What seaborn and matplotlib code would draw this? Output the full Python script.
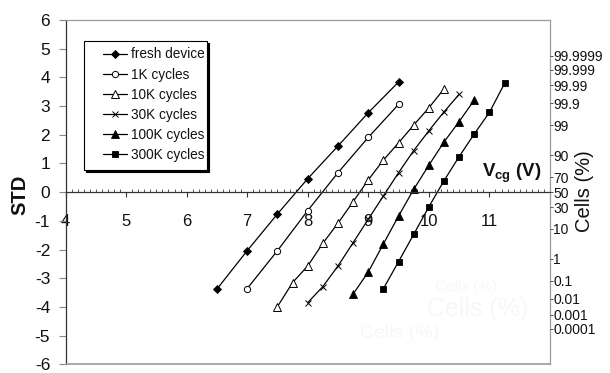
import matplotlib
matplotlib.use("Agg")
import matplotlib.pyplot as plt
import seaborn as sns
import numpy as np
import pandas as pd
from matplotlib.patches import Rectangle
from matplotlib.ticker import MultipleLocator, FixedLocator
from statistics import NormalDist

# ---------------- data ----------------
series_names = ["fresh device", "1K cycles", "10K cycles", "30K cycles",
                "100K cycles", "300K cycles"]

fresh_v = [6.5, 7.0, 7.5, 8.0, 8.5, 9.0, 9.5]
fresh_std = [-3.38, -2.04, -0.76, 0.47, 1.61, 2.77, 3.84]

k1_v = [7.0, 7.5, 8.0, 8.5, 9.0, 9.5]
k1_std = [-3.36, -2.04, -0.64, 0.68, 1.91, 3.06]

k10_v = [7.5, 7.75, 8.0, 8.25, 8.5, 8.75, 9.0, 9.25, 9.5, 9.75, 10.0, 10.25]
k10_std = [-3.99, -3.15, -2.57, -1.78, -1.08, -0.33, 0.43, 1.12, 1.72, 2.34, 2.94, 3.60]

k30_v = [8.0, 8.25, 8.5, 8.75, 9.0, 9.25, 9.5, 9.75, 10.0, 10.25, 10.5]
k30_std = [-3.85, -3.29, -2.57, -1.76, -0.94, -0.13, 0.68, 1.45, 2.14, 2.80, 3.41]

k100_v = [8.75, 9.0, 9.25, 9.5, 9.75, 10.0, 10.25, 10.5, 10.75]
k100_std = [-3.55, -2.78, -1.80, -0.83, 0.10, 0.94, 1.75, 2.46, 3.21]

k300_v = [9.25, 9.5, 9.75, 10.0, 10.25, 10.5, 10.75, 11.0, 11.25]
k300_std = [-3.36, -2.42, -1.47, -0.51, 0.40, 1.24, 2.03, 2.78, 3.79]

x_ticks = [4, 5, 6, 7, 8, 9, 10, 11]
y_ticks = [-6, -5, -4, -3, -2, -1, 0, 1, 2, 3, 4, 5, 6]
cells_labels = ["99.9999", "99.999", "99.99", "99.9", "99", "90", "70", "50",
                "30", "10", "1", "0.1", "0.01", "0.001", "0.0001"]

# ---------------- style ----------------
sns.set_theme(style="white")
plt.rcParams["font.family"] = ["Liberation Sans", "DejaVu Sans"]
plt.rcParams["mathtext.fontset"] = "custom"
plt.rcParams["mathtext.bf"] = "Liberation Sans:bold"
plt.rcParams["mathtext.rm"] = "Liberation Sans"

W, H = 610, 373
fig = plt.figure(figsize=(W / 100, H / 100), dpi=100)
fig.patch.set_facecolor("white")
L, R, T, B = 65.5, 550, 20, 364.3
ax = fig.add_axes([L / W, 1 - B / H, (R - L) / W, (B - T) / H])
ax.set_facecolor("white")

styles = [
    dict(marker="D", ms=4.2, mfc="black", mec="black", mew=0.6),
    dict(marker="o", ms=4.5, mfc="white", mec="black", mew=0.7),
    dict(marker="^", ms=6.0, mfc="white", mec="black", mew=0.7),
    dict(marker="x", ms=4.5, mfc="black", mec="black", mew=0.7),
    dict(marker="^", ms=6.0, mfc="black", mec="black", mew=0.6),
    dict(marker="s", ms=4.8, mfc="black", mec="black", mew=0.6),
]
all_v = [fresh_v, k1_v, k10_v, k30_v, k100_v, k300_v]
all_s = [fresh_std, k1_std, k10_std, k30_std, k100_std, k300_std]

for name, xs, ys, st in zip(series_names, all_v, all_s, styles):
    df = pd.DataFrame({"Vcg": xs, "STD": ys})
    sns.lineplot(data=df, x="Vcg", y="STD", ax=ax, color="black", lw=0.9,
                 label=name, legend=False, **st)

ax.set_xlim(4, 12)
ax.set_ylim(-6, 6)
ax.set_xlabel("")
ax.set_ylabel("")

box_c = "#9a9a9a"
axis_c = "#333333"
# x axis crossing at y = 0
ax.spines["bottom"].set_position(("data", 0))
ax.spines["bottom"].set_color(axis_c)
ax.spines["bottom"].set_linewidth(0.9)
ax.spines["left"].set_color(axis_c)
ax.spines["left"].set_linewidth(0.9)
for s in ("top", "right"):
    ax.spines[s].set_color(box_c)
    ax.spines[s].set_linewidth(0.9)
ax.axhline(-6, color=box_c, lw=1.2, clip_on=False, zorder=3)

ax.xaxis.set_major_locator(FixedLocator(x_ticks))
ax.set_xticklabels([str(t) for t in x_ticks])
ax.xaxis.set_minor_locator(MultipleLocator(0.1))
ax.tick_params(axis="x", which="major", direction="out", length=3.5, width=0.8,
               color=axis_c, pad=12.5, labelsize=12, labelcolor="#111111", bottom=True)
ax.tick_params(axis="x", which="minor", direction="in", length=2.5, width=0.7,
               color="#555555", bottom=True)

ax.yaxis.set_major_locator(FixedLocator(y_ticks))
ax.set_yticklabels([str(t) for t in y_ticks])
ax.tick_params(axis="y", which="major", direction="out", length=5, width=0.8,
               color="#888888", pad=6, labelsize=12.5, labelcolor="#111111", left=True)

# right probability axis
ax2 = ax.twinx()
ax2.set_ylim(-6, 6)
nd = NormalDist()
cells_pos = [nd.inv_cdf(float(v) / 100.0) for v in cells_labels]
ax2.yaxis.set_major_locator(FixedLocator(cells_pos))
ax2.set_yticklabels(cells_labels)
ax2.tick_params(axis="y", which="major", direction="out", length=2.0, width=0.7,
                color="#555555", pad=0.3, labelsize=10, labelcolor="#111111", right=True)
for s in ax2.spines.values():
    s.set_visible(False)

# axis titles
fig.text(20 / W, 1 - 195 / H, "STD", rotation=90, ha="center", va="center",
         fontsize=14.5, fontweight="bold", color="#111111")
fig.text(585 / W, 1 - 191 / H, "Cells (%)", rotation=90, ha="center", va="center",
         fontsize=14.5, color="#111111")
fig.text(511.5 / W, 1 - 173 / H, r"$\mathbf{V_{cg}}$ (V)", ha="center", va="center",
         fontsize=13.5, fontweight="bold", color="#111111")

# very faint ghost text present in the reference
ghost = "#f7f7f7"
fig.text(466 / W, 1 - 287 / H, "Cells (%)", ha="center", va="center", fontsize=11, color=ghost)
fig.text(478 / W, 1 - 309 / H, "Cells (%)", ha="center", va="center", fontsize=18, color=ghost)
fig.text(400 / W, 1 - 334 / H, "Cells (%)", ha="center", va="center", fontsize=14, color=ghost)

# legend with hand-drawn frame + black shadow
handles, labels = ax.get_legend_handles_labels()
x0, y0, x1, y1 = 84.3, 41, 206.7, 170
shadow = Rectangle((x0 / W + 2 / W, 1 - (y1 + 2) / H), (x1 - x0) / W, (y1 - y0) / H,
                   transform=fig.transFigure, facecolor="black", edgecolor="black",
                   lw=0.8, zorder=8)
frame = Rectangle((x0 / W, 1 - y1 / H), (x1 - x0) / W, (y1 - y0) / H,
                  transform=fig.transFigure, facecolor="white", edgecolor="black",
                  lw=0.8, zorder=9)
fig.add_artist(shadow)
fig.add_artist(frame)
leg = fig.legend(handles, labels, loc="upper left",
                 bbox_to_anchor=(102.7 / W, 1 - 47.5 / H),
                 frameon=False, borderpad=0, borderaxespad=0,
                 handlelength=1.8, handletextpad=0.25, labelspacing=0.45,
                 fontsize=9.8)
leg.set_zorder(10)
for t in leg.get_texts():
    t.set_color("#111111")

fig.savefig("out.png", dpi=100, facecolor="white")
